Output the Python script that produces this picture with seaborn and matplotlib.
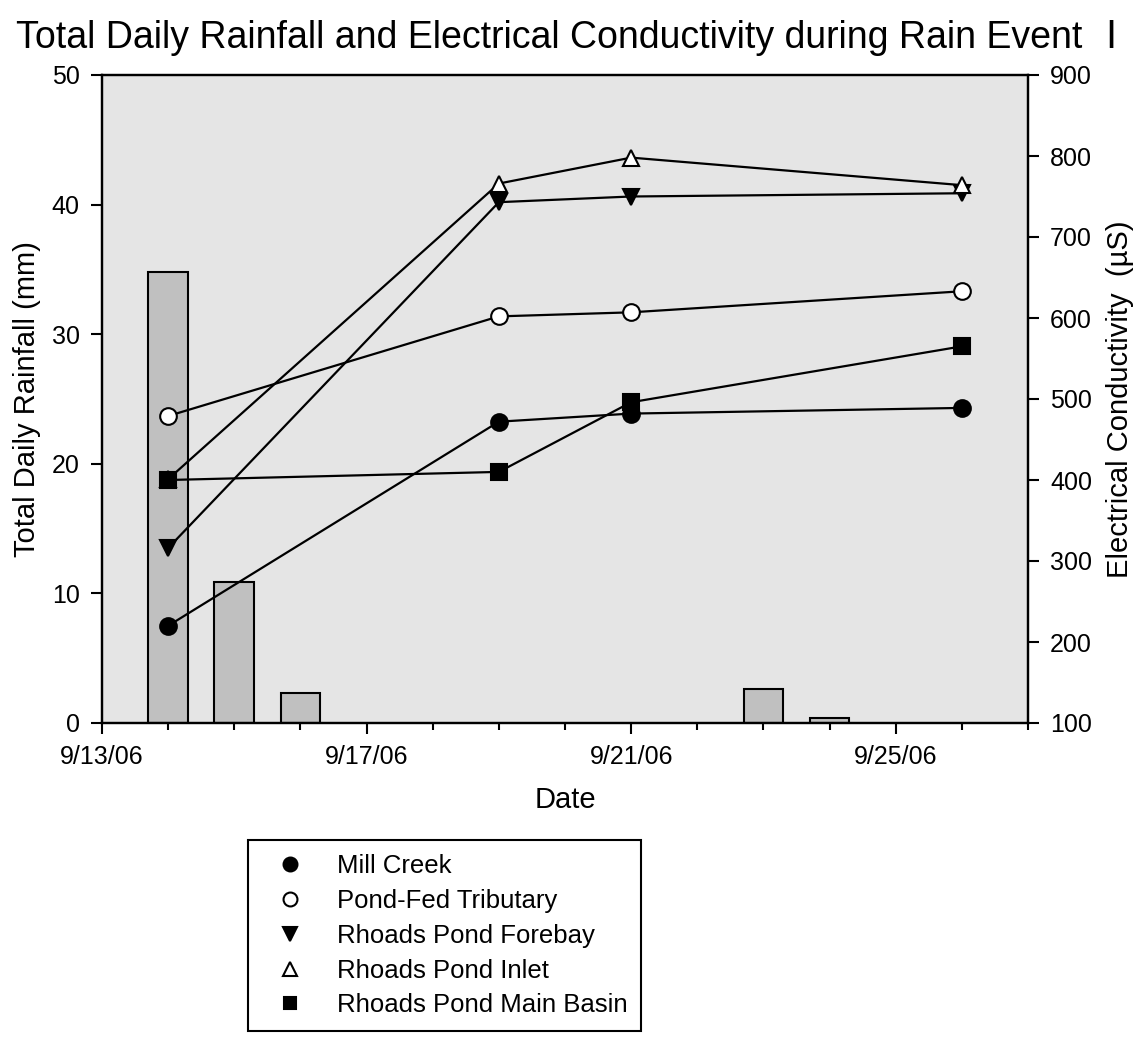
import matplotlib
matplotlib.use("Agg")
import matplotlib.pyplot as plt
import matplotlib.dates as mdates
from matplotlib.lines import Line2D
import seaborn as sns
import pandas as pd
import numpy as np

# ---------------- data ----------------
rain_dates = ["2006-09-14", "2006-09-15", "2006-09-16", "2006-09-23", "2006-09-24"]
rain_mm = [34.8, 10.9, 2.3, 2.6, 0.4]

ec_dates = ["2006-09-14", "2006-09-19", "2006-09-21", "2006-09-26"]
mill_creek = [220, 472, 482, 489]
pond_fed = [479, 602, 607, 633]
forebay = [316, 743, 750, 754]
inlet = [401, 766, 798, 764]
main_basin = [400, 410, 496, 565]

series_names = ["Mill Creek", "Pond-Fed Tributary", "Rhoads Pond Forebay",
                "Rhoads Pond Inlet", "Rhoads Pond Main Basin"]
series_values = [mill_creek, pond_fed, forebay, inlet, main_basin]

x_tick_dates = ["2006-09-13", "2006-09-17", "2006-09-21", "2006-09-25"]
x_tick_labels = ["9/13/06", "9/17/06", "9/21/06", "9/25/06"]
left_ticks = [0, 10, 20, 30, 40, 50]
right_ticks = [100, 200, 300, 400, 500, 600, 700, 800, 900]

title = "Total Daily Rainfall and Electrical Conductivity during Rain Event \u2160"

# ---------------- style ----------------
sns.set_theme(style="ticks")
plt.rcParams["font.family"] = ["Liberation Sans", "Noto Sans CJK SC", "DejaVu Sans"]
for k in ["text.color", "axes.labelcolor", "xtick.color", "ytick.color", "axes.edgecolor"]:
    plt.rcParams[k] = "black"

markers = ["o", "o", "v", "^", "s"]
faces = ["black", "white", "black", "white", "black"]

rain_df = pd.DataFrame({"date": pd.to_datetime(rain_dates), "rain": rain_mm})
ec_df = pd.DataFrame({"date": pd.to_datetime(ec_dates)})
for n, v in zip(series_names, series_values):
    ec_df[n] = v

fig = plt.figure(figsize=(11.46, 10.38), dpi=100)
ax = fig.add_axes([102 / 1146, 1 - 723 / 1038, (1028 - 102) / 1146, (723 - 75) / 1038])
ax.set_facecolor("#e5e5e5")

ax.bar(rain_df["date"], rain_df["rain"], width=0.6, color="#c0c0c0",
       edgecolor="black", linewidth=1.5, zorder=2)
ax.set_ylim(0, 50)
ax.set_yticks(left_ticks)
ax.set_xlim(pd.Timestamp("2006-09-13"), pd.Timestamp("2006-09-27"))

ax2 = ax.twinx()
for n, m, fc in zip(series_names, markers, faces):
    sns.lineplot(data=ec_df, x="date", y=n, ax=ax2, color="black", linewidth=1.6,
                 marker=m, markersize=12 if m != "s" else 11,
                 markerfacecolor=fc, markeredgecolor="black", markeredgewidth=1.5,
                 zorder=3)
ax2.set_ylim(100, 900)
ax2.set_yticks(right_ticks)
ax2.set_xlim(pd.Timestamp("2006-09-13"), pd.Timestamp("2006-09-27"))
ax.set_xticks(pd.to_datetime(x_tick_dates))
ax.set_xticklabels(x_tick_labels)
ax.xaxis.set_minor_locator(mdates.DayLocator())

for a in (ax, ax2):
    for s in a.spines.values():
        s.set_linewidth(1.6)
        s.set_color("black")
        s.set_visible(True)
    a.tick_params(axis="both", which="major", length=8, width=1.5, labelsize=18,
                  colors="black", pad=8)
    a.tick_params(axis="x", which="minor", length=5, width=1.5)

ax.set_xlabel("Date", fontsize=21, labelpad=12)
ax.set_ylabel("Total Daily Rainfall (mm)", fontsize=21, labelpad=8)
ax2.set_ylabel("Electrical Conductivity  (\u00b5S)", fontsize=21, labelpad=10)

fig.text(0.5, 1 - 38 / 1038, title, fontsize=27, ha="center", va="center")

handles = [Line2D([], [], linestyle="none", marker=m, markersize=10 if m != "s" else 9,
                  markerfacecolor=fc, markeredgecolor="black", markeredgewidth=1.5)
           for m, fc in zip(markers, faces)]
leg = fig.legend(handles, series_names, loc="upper left",
                 bbox_to_anchor=(248 / 1146, 1 - 840 / 1038),
                 frameon=True, fancybox=False, framealpha=1, edgecolor="black",
                 fontsize=18.5, borderpad=0.55, labelspacing=0.42, handletextpad=0.7,
                 handlelength=2.2, borderaxespad=0)
leg.get_frame().set_linewidth(1.5)

fig.savefig("out.png", dpi=100)
